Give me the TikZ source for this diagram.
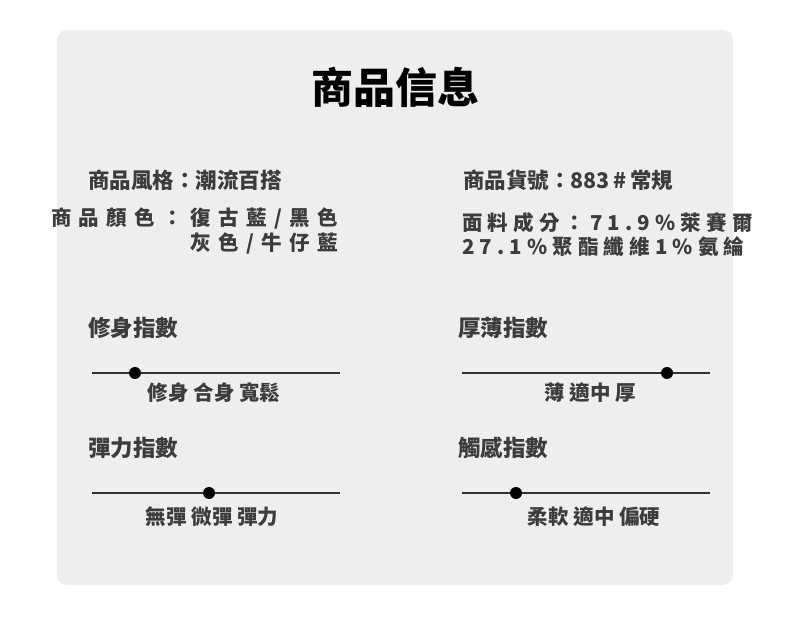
\documentclass[tikz,border=0pt]{standalone}
\usepackage{fontspec}
\setmainfont{Noto Sans CJK TC}
\definecolor{panel}{HTML}{EEEEEE}
\definecolor{txt}{HTML}{3C3C3C}
\definecolor{bar}{HTML}{333333}
\tikzset{
 info/.style={text=txt,font=\fontsize{21.5}{25}\selectfont\bfseries,inner sep=0pt},
 spaced/.style={text=txt,font=\addfontfeature{LetterSpace=#1}\fontsize{20.5}{24.5}\selectfont\bfseries,inner sep=0pt},
 head/.style={text=txt,font=\fontsize{22.5}{26}\selectfont\bfseries,inner sep=0pt,anchor=west},
 lab/.style={text=txt,font=\fontsize{20.5}{24}\selectfont\bfseries,inner sep=0pt},
 barline/.style={draw=bar,line width=2.6pt},
 knob/.style={circle,fill=black,minimum size=12pt,inner sep=0pt}
}
\begin{document}
\begin{tikzpicture}[x=1pt,y=-1pt]
\useasboundingbox (0,0) rectangle (790,620);
\fill[white] (0,0) rectangle (790,620);
\fill[panel,rounded corners=10pt] (57,30) rectangle (733,585);
\node[font=\fontsize{42}{46}\selectfont\bfseries,inner sep=0pt] (title) at (395,87) {商品信息};
\node[info,anchor=west] (style) at (88,180) {商品風格：潮流百搭};
\node[info,anchor=west] (code) at (463,180) {商品貨號：883\,\#\,常規};
\node[spaced=36,anchor=north east,align=right] (color) at (338,208) {商品顏色：復古藍/黑色\\灰色/牛仔藍};
\node[spaced=25,anchor=north west,align=left] (fab) at (462,212) {面料成分：71.9\%萊賽爾\\27.1\%聚酯纖維1\%氨綸};
\node[head] (h1) at (88,328) {修身指數};
\node[head] (h2) at (458,328) {厚薄指數};
\node[head] (h3) at (88,448) {彈力指數};
\node[head] (h4) at (458,448) {觸感指數};
\coordinate (a1) at (92,373); \coordinate (b1) at (340,373);
\coordinate (a2) at (462,373); \coordinate (b2) at (710,373);
\coordinate (a3) at (92,493); \coordinate (b3) at (340,493);
\coordinate (a4) at (462,493); \coordinate (b4) at (710,493);
\draw[barline] (a1) -- (b1); \draw[barline] (a2) -- (b2);
\draw[barline] (a3) -- (b3); \draw[barline] (a4) -- (b4);
\node[knob] (k1) at (135,373) {};
\node[knob] (k2) at (667,373) {};
\node[knob] (k3) at (209,493) {};
\node[knob] (k4) at (516,493) {};
\node[lab] (l1) at (214,393) {修身 合身 寬鬆};
\node[lab] (l2) at (590,393) {薄 適中 厚};
\node[lab] (l3) at (212,517) {無彈 微彈 彈力};
\node[lab] (l4) at (594,517) {柔軟 適中 偏硬};
\end{tikzpicture}
\end{document}
